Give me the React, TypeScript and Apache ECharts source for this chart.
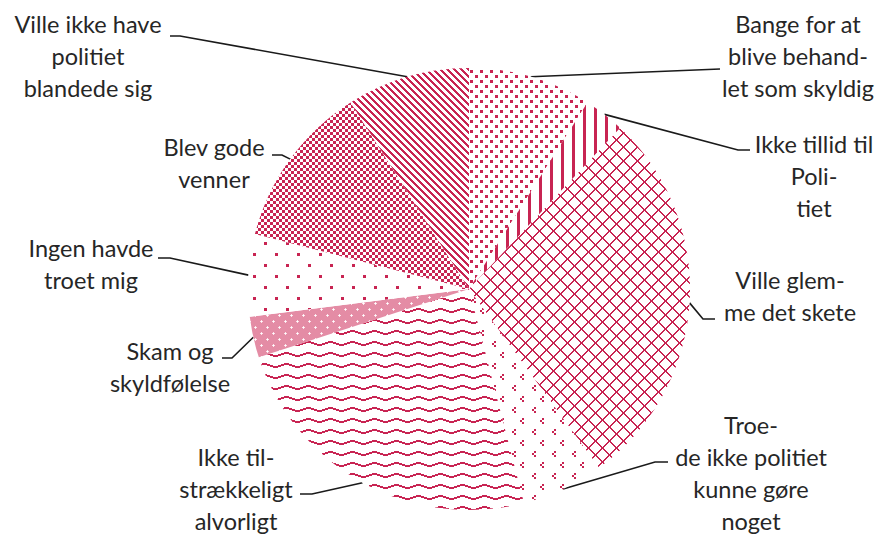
import React, { useEffect, useRef } from 'react';
import * as echarts from 'echarts';

// ---- data ----
const categories: string[] = [
  'Bange for at\nblive behand-\nlet som skyldig',
  'Ikke tillid til\nPoli-\ntiet',
  'Ville glem-\nme det skete',
  'Troe-\nde ikke politiet\nkunne gøre\nnoget',
  'Ikke til-\nstrækkeligt\nalvorligt',
  'Skam og\nskyldfølelse',
  'Ingen havde\ntroet mig',
  'Blev gode\nvenner',
  'Ville ikke have\npolitiet\nblandede sig',
];
const values: number[] = [9, 3, 28, 6, 24, 3, 6, 12, 9];

// ---- layout (label positions + leader line bends) ----
const labelCenters: number[][] = [
  [798, 56], [814, 176], [790, 295.5], [751, 473], [236, 489],
  [170, 367], [91, 264], [214, 163], [88, 56],
];
const leaderBends: number[][][] = [
  [[720, 69]],
  [[738, 150], [750, 150]],
  [[703, 319], [715, 319]],
  [[655, 462], [668, 462]],
  [[312, 494], [300, 494]],
  [[232, 358], [222, 358]],
  [[170, 258], [158, 258]],
  [[282, 155], [272, 155]],
  [[180, 36], [170, 36]],
];

const C = '#C82452';

function tile(w: number, h: number, bg: string, draw: (blk: (x: number, y: number, bw: number, bh: number, col?: string) => void) => void) {
  const c = document.createElement('canvas');
  c.width = w; c.height = h;
  const g = c.getContext('2d')!;
  g.fillStyle = bg;
  g.fillRect(0, 0, w, h);
  const blk = (x: number, y: number, bw: number, bh: number, col?: string) => {
    g.fillStyle = col || C;
    for (let dx = 0; dx < bw; dx++) for (let dy = 0; dy < bh; dy++) {
      g.fillRect((((x + dx) % w) + w) % w, (((y + dy) % h) + h) % h, 1, 1);
    }
  };
  draw(blk);
  return { image: c.toDataURL(), repeat: 'repeat', imageWidth: w, imageHeight: h };
}

function makePatterns() {
  const W = '#ffffff';
  const bange = tile(10, 10, W, (b) => { b(0, 0, 3, 3); b(5, 5, 3, 3); });
  const tillid = tile(11, 4, W, (b) => { b(0, 0, 3, 4); });
  const glemme = tile(14, 14, W, (b) => { for (let i = 0; i < 14; i++) { b(i, i, 2, 1); b(13 - i, i, 2, 1); } });
  const troede = tile(20, 22, W, (b) => {
    b(2, 0, 2, 2); b(0, 2, 2, 2); b(2, 4, 2, 2);
    b(14, 11, 2, 2); b(12, 13, 2, 2); b(14, 15, 2, 2);
  });
  const tilstr = tile(22, 11, W, (b) => {
    for (let x = 0; x < 22; x++) {
      const y = Math.round(1.5 - 1.5 * Math.cos((2 * Math.PI * x) / 22));
      b(x, y, 1, 2);
    }
  });
  const skam = tile(12, 12, '#E48CA5', (b) => {
    const sp = (x: number, y: number) => { b(x, y, 1, 1, '#fff'); b(x - 1, y, 1, 1, '#fbe3ea'); b(x + 1, y, 1, 1, '#fbe3ea'); b(x, y - 1, 1, 1, '#fbe3ea'); b(x, y + 1, 1, 1, '#fbe3ea'); };
    sp(3, 3); sp(9, 9);
  });
  const ingen = tile(22, 22, W, (b) => { b(0, 0, 3, 3); b(11, 11, 3, 3); });
  const blev = tile(6, 6, W, (b) => { b(0, 0, 3, 3); b(3, 3, 3, 3); });
  const villeikke = tile(7, 7, W, (b) => { for (let i = 0; i < 7; i++) b(i, i, 2, 2); });
  return [bange, tillid, glemme, troede, tilstr, skam, ingen, blev, villeikke];
}

export default function App() {
  const ref = useRef<HTMLDivElement>(null);
  useEffect(() => {
    document.body.style.margin = '0';
    if (!ref.current) return;
    const chart = echarts.init(ref.current, undefined, { renderer: 'svg' });
    const patterns = makePatterns();
    chart.setOption({
      animation: false,
      backgroundColor: '#ffffff',
      series: [
        {
          type: 'pie',
          center: [469, 289],
          radius: 221,
          startAngle: 90,
          clockwise: true,
          avoidLabelOverlap: false,
          emphasis: { disabled: true },
          itemStyle: { borderWidth: 0 },
          label: {
            show: true,
            position: 'outside',
            formatter: (p: any) => categories[p.dataIndex],
            fontFamily: 'Lato',
            fontSize: 23.5,
            lineHeight: 32,
            color: '#262626',
            align: 'center',
          },
          labelLine: {
            show: true,
            length: 5,
            length2: 5,
            lineStyle: { color: '#1a1a1a', width: 1.6 },
          },
          labelLayout: (params: any) => {
            const i = params.dataIndex;
            const start = params.labelLinePoints ? params.labelLinePoints[0] : null;
            const out: any = {
              x: labelCenters[i][0],
              y: labelCenters[i][1],
              align: 'center',
              verticalAlign: 'middle',
            };
            if (start) out.labelLinePoints = [start, ...leaderBends[i]];
            return out;
          },
          data: values.map((v, i) => ({
            value: v,
            name: categories[i],
            itemStyle: { color: patterns[i] },
          })),
        },
      ],
    });
    return () => chart.dispose();
  }, []);
  return <div ref={ref} style={{ width: 884, height: 537 }} />;
}
